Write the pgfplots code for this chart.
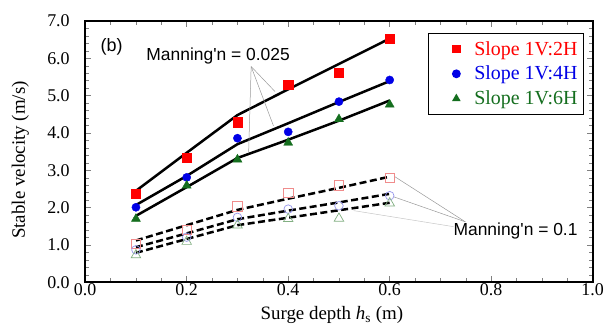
\documentclass[border=0pt]{standalone}
\usepackage{pgfplots}
\pgfplotsset{compat=1.18}
\usepackage{fontspec}
\setmainfont{Liberation Serif}
\newfontfamily\arial{Liberation Sans}
\definecolor{cred}{RGB}{255,0,0}
\definecolor{cblue}{RGB}{0,0,230}
\definecolor{cgreen}{RGB}{20,110,30}
\definecolor{lred}{RGB}{240,140,140}
\definecolor{lblue}{RGB}{150,150,235}
\definecolor{lgreen}{RGB}{130,175,130}
\begin{document}
\begin{tikzpicture}
\begin{axis}[
  name=ax,
  scale only axis, width=507.5bp, height=261.3bp,
  xmin=0, xmax=1, ymin=0, ymax=7,
  xtick={0,0.2,0.4,0.6,0.8,1.0}, ytick={0,1,2,3,4,5,6,7},
  minor x tick num=3, minor y tick num=4,
  tick align=inside, xtick pos=both, ytick pos=both,
  tick style={gray, line width=0.5bp},
  major tick length=6bp, minor tick length=4bp,
  axis line style={line width=1.6bp},
  tick label style={font=\fontsize{18}{20}\selectfont},
  yticklabel style={xshift=-12bp},
  xticklabel style={yshift=2bp},
  /pgf/number format/.cd, fixed, fixed zerofill, precision=1, assume math mode=true,
  /pgfplots/.cd,
  xlabel={Surge depth \textit{h}\textsubscript{s} (m)},
  ylabel={Stable velocity (m/s)},
  label style={font=\fontsize{19}{21}\selectfont},
  xlabel style={at={(axis description cs:0.486,-0.144)}, anchor=base},
  ylabel style={at={(axis description cs:-0.128,0.468)}, anchor=center},
  clip=false,
  legend style={at={(rel axis cs:0.983,0.955)}, anchor=north east, draw=black, line width=1.2bp,
    font=\fontsize{20}{22}\selectfont, inner xsep=4bp, inner ysep=6bp, row sep=5.5bp, cells={anchor=west}},
  legend image code/.code={\path[draw=none,fill=none] (0bp,0bp) -- (40bp,0bp); \draw[#1, mark size=3.8bp] plot coordinates {(24bp,0bp)};},
]
% open markers (n = 0.1)
\addplot[only marks, mark=square, mark size=4.8bp, draw=lred, mark options={line width=0.7bp}, forget plot]
  coordinates {(0.1,1.03)(0.2,1.40)(0.3,2.03)(0.4,2.40)(0.5,2.59)(0.6,2.80)};
\addplot[only marks, mark=o, mark size=4.3bp, draw=lblue, mark options={line width=0.7bp}, forget plot]
  coordinates {(0.1,0.87)(0.2,1.21)(0.3,1.74)(0.4,1.96)(0.5,2.05)(0.6,2.32)};
\addplot[only marks, mark=triangle, mark size=5.5bp, draw=lgreen, mark options={line width=0.7bp}, forget plot]
  coordinates {(0.1,0.73)(0.2,1.09)(0.3,1.53)(0.4,1.70)(0.5,1.71)(0.6,2.12)};
% dashed lines
\addplot[black, line width=2.5bp, dash pattern=on 7bp off 3.5bp, no marks, forget plot]
  coordinates {(0.1,1.12)(0.2,1.53)(0.3,1.94)(0.4,2.24)(0.5,2.53)(0.6,2.83)};
\addplot[black, line width=2.5bp, dash pattern=on 7bp off 3.5bp, no marks, forget plot]
  coordinates {(0.1,0.94)(0.2,1.31)(0.3,1.69)(0.4,1.92)(0.5,2.14)(0.6,2.37)};
\addplot[black, line width=2.5bp, dash pattern=on 7bp off 3.5bp, no marks, forget plot]
  coordinates {(0.1,0.79)(0.2,1.16)(0.3,1.53)(0.4,1.73)(0.5,1.93)(0.6,2.13)};
% solid lines
\addplot[black, line width=2.5bp, no marks, forget plot]
  coordinates {(0.1,2.45)(0.2,3.47)(0.3,4.48)(0.4,5.17)(0.5,5.85)(0.6,6.53)};
\addplot[black, line width=2.5bp, no marks, forget plot]
  coordinates {(0.1,2.07)(0.2,2.85)(0.3,3.70)(0.4,4.26)(0.5,4.83)(0.6,5.39)};
\addplot[black, line width=2.5bp, no marks, forget plot]
  coordinates {(0.1,1.78)(0.2,2.55)(0.3,3.33)(0.4,3.82)(0.5,4.33)(0.6,4.87)};
% filled markers (n = 0.025)
\addplot[only marks, mark=square*, mark size=4.7bp, color=cred]
  coordinates {(0.1,2.37)(0.2,3.34)(0.3,4.29)(0.4,5.30)(0.5,5.62)(0.6,6.52)};
\addlegendentry{\textcolor{cred}{Slope 1V:2H}}
\addplot[only marks, mark=*, mark size=4.1bp, color=cblue]
  coordinates {(0.1,2.01)(0.2,2.81)(0.3,3.86)(0.4,4.03)(0.5,4.84)(0.6,5.42)};
\addlegendentry{\textcolor{cblue}{Slope 1V:4H}}
\addplot[only marks, mark=triangle*, mark size=5.2bp, color=cgreen]
  coordinates {(0.1,1.70)(0.2,2.59)(0.3,3.29)(0.4,3.74)(0.5,4.37)(0.6,4.76)};
\addlegendentry{\textcolor{cgreen}{Slope 1V:6H}}
% annotations
\node[font=\arial\fontsize{18}{20}\selectfont] at (axis cs:0.052,6.31) {(b)};
\node[font=\arial\fontsize{17.5}{20}\selectfont] at (axis cs:0.262,6.07) {Manning\textquotesingle n = 0.025};
\draw[gray!80, line width=0.5bp] (axis cs:0.327,5.78) -- (axis cs:0.374,5.11);
\draw[gray!80, line width=0.5bp] (axis cs:0.327,5.78) -- (axis cs:0.371,4.19);
\draw[gray!80, line width=0.5bp] (axis cs:0.327,5.78) -- (axis cs:0.322,3.46);
\node[font=\arial\fontsize{17.5}{20}\selectfont] at (axis cs:0.848,1.38) {Manning\textquotesingle n = 0.1};
\draw[gray!80, line width=0.5bp] (axis cs:0.749,1.62) -- (axis cs:0.610,2.83);
\draw[gray!80, line width=0.5bp] (axis cs:0.749,1.62) -- (axis cs:0.608,2.29);
\draw[gray!45, line width=0.5bp] (axis cs:0.726,1.49) -- (axis cs:0.529,1.92);
\end{axis}
\pgfresetboundingbox
\path ([shift={(-85.2bp,-46.7bp)}]ax.south west) rectangle ([shift={(522.8bp,282.3bp)}]ax.south west);
\end{tikzpicture}
\end{document}
